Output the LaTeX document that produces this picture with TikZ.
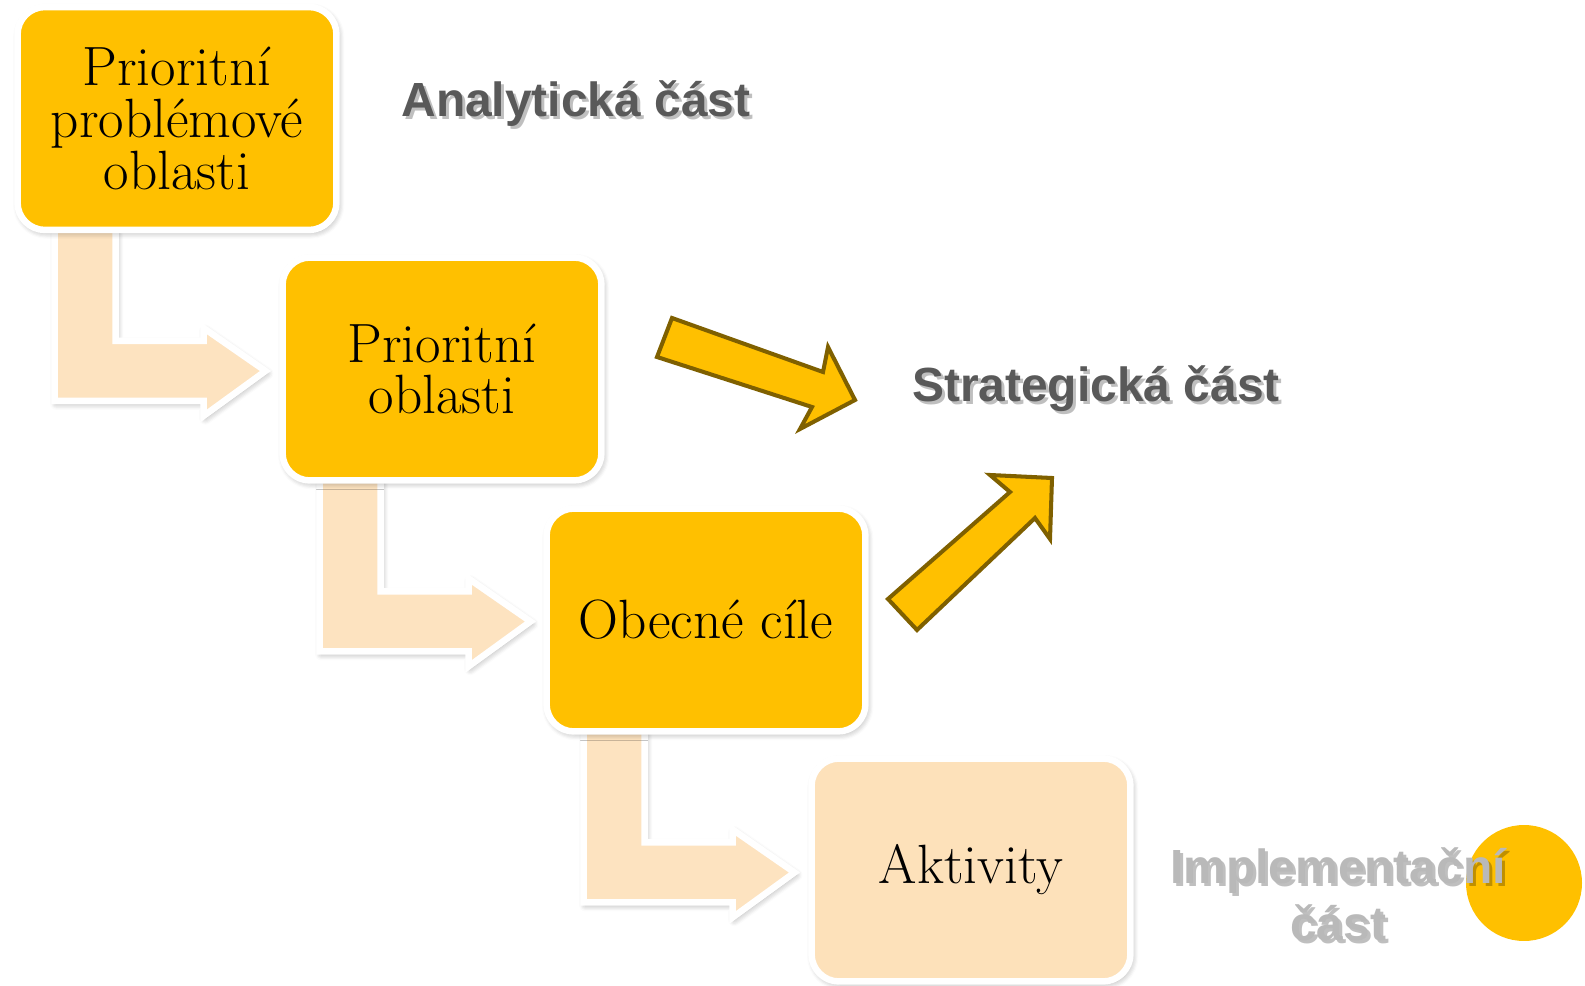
\documentclass[tikz,border=0pt]{standalone}
\usepackage{fontspec}
\newfontfamily\partfont{Liberation Sans}
\usetikzlibrary{shadows.blur,backgrounds}
\definecolor{boxyellow}{HTML}{FFC000}
\definecolor{boxpeach}{HTML}{FDE1BA}
\definecolor{arrowpeach}{HTML}{FDE3C0}
\definecolor{arrowbrown}{HTML}{7F6000}
\begin{document}
\begin{tikzpicture}[x=0.02cm, y=-0.02cm,
    stagebox/.style={draw=white, line width=3.7pt, outer sep=0pt, rounded corners=0.55cm,
      minimum width=6.38cm, minimum height=4.46cm, align=center,
      font=\fontsize{31.5}{29.5}\selectfont,
      blur shadow={shadow blur steps=6, shadow blur radius=3.5pt, shadow opacity=35,
        shadow xshift=1pt, shadow yshift=-1.5pt}},
    bentarrow/.style={fill=arrowpeach, draw=white, line width=3.7pt, line join=miter,
      blur shadow={shadow blur steps=6, shadow blur radius=3.5pt, shadow opacity=35,
        shadow xshift=1pt, shadow yshift=-1.5pt}},
    goldarrow/.style={fill=boxyellow, draw=arrowbrown, line width=2.3pt, line join=miter},
    partlabel/.style={font=\partfont\bfseries\fontsize{27.3}{32.3}\selectfont, align=center},
    partshadow/.style={partlabel, text=black, opacity=0.25}]
    \useasboundingbox (0,0) rectangle (1585,986);
    \node[stagebox, fill=boxyellow] (b1) at (177,118.5) {Prioritní\\problémové\\oblasti};
    \node[stagebox, fill=boxyellow] (b2) at (442,369) {Prioritní\\oblasti};
    \node[stagebox, fill=boxyellow] (b3) at (706,620) {Obecné cíle};
    \node[stagebox, fill=boxpeach] (b4) at (971,870) {Aktivity};
    \begin{scope}[on background layer]
        \foreach \b in {b1,b2,b3} {
            \begin{scope}[shift={(\b.south west)}]
                \draw[bentarrow] (37,-20) -- (98,-20) -- (98,111) -- (186,111) -- (186,98)
                    -- (248,141) -- (186,186) -- (186,171) -- (37,171) -- cycle;
            \end{scope}
        }
    \end{scope}
    \draw[goldarrow] (672,318) -- (823,372) -- (828,347) -- (855,400) -- (800,429) -- (812,407) -- (657,357) -- cycle;
    \draw[goldarrow] (888,599) -- (1010,492) -- (990,475) -- (1052,478) -- (1050,539) -- (1035,518) -- (917,630) -- cycle;
    \fill[boxyellow] (1524,883) circle (1.16cm);
    \node[partshadow] (anashadow) at (579,107) {Analytická část};
    \node[partlabel, text=black!65] (ana) at (576,104) {Analytická část};
    \node[partshadow] (strshadow) at (1099,392) {Strategická část};
    \node[partlabel, text=black!65] (str) at (1096,389) {Strategická část};
    \node[partshadow] (impshadow) at (1341,897) {Implementační\\část};
    \node[partlabel, text=gray!55] (imp) at (1338,894) {Implementační\\část};
\end{tikzpicture}
\end{document}
